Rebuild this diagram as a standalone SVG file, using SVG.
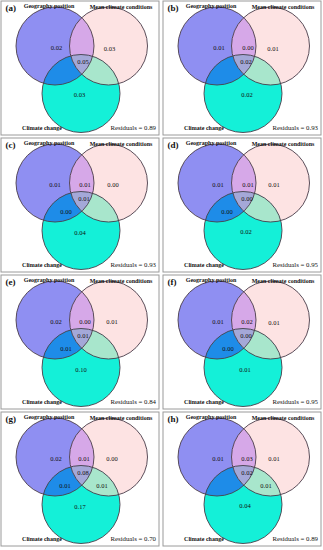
<svg xmlns="http://www.w3.org/2000/svg" xmlns:xlink="http://www.w3.org/1999/xlink" width="323" height="550" viewBox="0 0 323 550">
<style>
.frame{fill:#fff;stroke:#9a9a9a;stroke-width:1}
.fG{fill:#8f8ff2}
.fM{fill:#fde3e3}
.fC{fill:#14f0d8}
.fGM{fill:#d6a8e8}
.fGC{fill:#1e8ce8}
.fMC{fill:#a8e6cc}
.fGMC{fill:#a4a8d8}
.ln{fill:none;stroke:#4a3c4a;stroke-width:0.9}
text{font-family:"Liberation Serif","Times New Roman",serif;fill:#111}
.tag{font-size:9px;font-weight:bold}
.hd{font-size:6px;font-weight:bold;text-anchor:middle}
.num{font-size:6.5px;text-anchor:middle}
.res{font-size:6.8px;text-anchor:end}
</style>
<defs>
<circle id="cG" cx="54" cy="45" r="39"/>
<circle id="cM" cx="107.5" cy="45" r="39"/>
<circle id="cC" cx="80" cy="92.5" r="39"/>
<clipPath id="clipG" clipPathUnits="userSpaceOnUse"><circle cx="54" cy="45" r="39"/></clipPath>
<clipPath id="clipM" clipPathUnits="userSpaceOnUse"><circle cx="107.5" cy="45" r="39"/></clipPath>
<g id="venn">
<rect class="frame" x="0" y="0" width="158" height="134"/>
<use href="#cG" class="fG"/>
<use href="#cM" class="fM"/>
<use href="#cC" class="fC"/>
<use href="#cM" class="fGM" clip-path="url(#clipG)"/>
<use href="#cC" class="fGC" clip-path="url(#clipG)"/>
<use href="#cC" class="fMC" clip-path="url(#clipM)"/>
<g clip-path="url(#clipG)"><use href="#cC" class="fGMC" clip-path="url(#clipM)"/></g>
<use href="#cG" class="ln"/>
<use href="#cM" class="ln"/>
<use href="#cC" class="ln"/>
<text class="hd" x="48" y="7">Geography position</text>
<text class="hd" x="120" y="7.5">Mean climate conditions</text>
<text class="hd" x="41" y="128.5">Climate change</text>
</g>
</defs>

<g id="panel-a" transform="translate(1,1)">
<use href="#venn"/>
<text class="tag" x="4.5" y="9.5">(a)</text>
<text class="num" x="55.5" y="48.5">0.02</text>
<text class="num" x="108.5" y="49.5">0.03</text>
<text class="num" x="82" y="63">0.05</text>
<text class="num" x="78.5" y="96">0.03</text>
<text class="res" x="155" y="129">Residuals = 0.89</text>
</g>

<g id="panel-b" transform="translate(163,1)">
<use href="#venn"/>
<text class="tag" x="4.5" y="9.5">(b)</text>
<text class="num" x="56" y="48.5">0.01</text>
<text class="num" x="85" y="48.5">0.00</text>
<text class="num" x="110" y="49.5">0.01</text>
<text class="num" x="83" y="63">0.02</text>
<text class="num" x="84" y="96">0.02</text>
<text class="res" x="155" y="129">Residuals = 0.93</text>
</g>

<g id="panel-c" transform="translate(1,138)">
<use href="#venn"/>
<text class="tag" x="4.5" y="9.5">(c)</text>
<text class="num" x="54" y="48.5">0.01</text>
<text class="num" x="84" y="49">0.01</text>
<text class="num" x="112" y="49">0.00</text>
<text class="num" x="83" y="63">0.01</text>
<text class="num" x="65" y="76">0.00</text>
<text class="num" x="79" y="97">0.04</text>
<text class="res" x="155" y="129">Residuals = 0.93</text>
</g>

<g id="panel-d" transform="translate(163,138)">
<use href="#venn"/>
<text class="tag" x="4.5" y="9.5">(d)</text>
<text class="num" x="55" y="48.5">0.01</text>
<text class="num" x="85" y="48.5">0.01</text>
<text class="num" x="111" y="49">0.01</text>
<text class="num" x="84" y="63">0.00</text>
<text class="num" x="64" y="76">0.00</text>
<text class="num" x="83" y="96">0.02</text>
<text class="res" x="155" y="129">Residuals = 0.95</text>
</g>

<g id="panel-e" transform="translate(1,275)">
<use href="#venn"/>
<text class="tag" x="4.5" y="9.5">(e)</text>
<text class="num" x="55" y="48.5">0.02</text>
<text class="num" x="84" y="48.5">0.00</text>
<text class="num" x="111" y="49">0.01</text>
<text class="num" x="82" y="63">0.01</text>
<text class="num" x="65" y="76">0.01</text>
<text class="num" x="80" y="97">0.10</text>
<text class="res" x="155" y="129">Residuals = 0.84</text>
</g>

<g id="panel-f" transform="translate(163,275)">
<use href="#venn"/>
<text class="tag" x="4.5" y="9.5">(f)</text>
<text class="num" x="55" y="48.5">0.01</text>
<text class="num" x="84" y="49">0.02</text>
<text class="num" x="111" y="49.5">0.01</text>
<text class="num" x="83" y="63">0.00</text>
<text class="num" x="65" y="76">0.00</text>
<text class="num" x="82" y="97">0.01</text>
<text class="res" x="155" y="129">Residuals = 0.95</text>
</g>

<g id="panel-g" transform="translate(1,412)">
<use href="#venn"/>
<text class="tag" x="4.5" y="9.5">(g)</text>
<text class="num" x="55" y="48.5">0.02</text>
<text class="num" x="83" y="48.5">0.01</text>
<text class="num" x="111" y="49">0.00</text>
<text class="num" x="82" y="63">0.08</text>
<text class="num" x="64" y="76">0.01</text>
<text class="num" x="101" y="76">0.01</text>
<text class="num" x="79" y="97">0.17</text>
<text class="res" x="155" y="129">Residuals = 0.70</text>
</g>

<g id="panel-h" transform="translate(163,412)">
<use href="#venn"/>
<text class="tag" x="4.5" y="9.5">(h)</text>
<text class="num" x="55" y="48.5">0.01</text>
<text class="num" x="84" y="48.5">0.03</text>
<text class="num" x="111" y="49">0.01</text>
<text class="num" x="84" y="63">0.02</text>
<text class="num" x="103" y="76">0.01</text>
<text class="num" x="82" y="96">0.04</text>
<text class="res" x="155" y="129">Residuals = 0.89</text>
</g>
</svg>
